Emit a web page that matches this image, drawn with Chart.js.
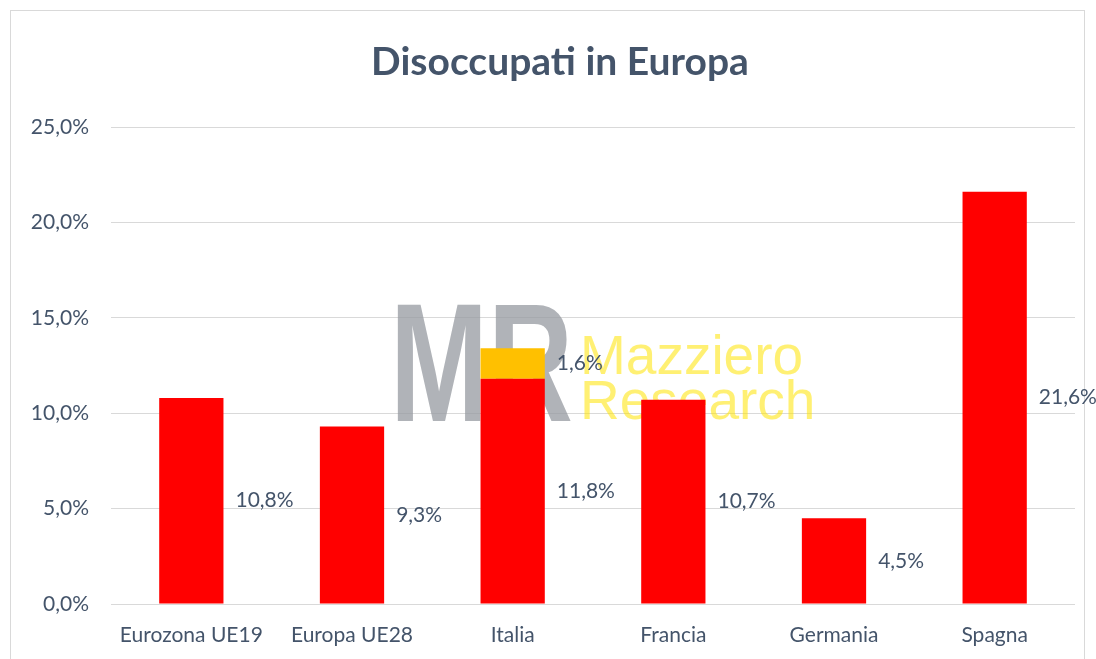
<!DOCTYPE html>
<html>
<head>
<meta charset="utf-8">
<script src="https://cdn.jsdelivr.net/npm/chart.js@4"></script>
<style>
  html, body { margin: 0; padding: 0; background: #fff; }
  #wrap { position: relative; width: 1096px; height: 659px; }
  #frame { position: absolute; left: 10px; top: 10px; width: 1075px; height: 660px; border: 1px solid #d9d9d9; box-sizing: border-box; }
  canvas { position: absolute; left: 0; top: 0; }
</style>
</head>
<body>
<div id="wrap">
  <div id="frame"></div>
  <canvas id="chart" width="1096" height="659"></canvas>
</div>
<script>
"use strict";

var categories = ["Eurozona UE19", "Europa UE28", "Italia", "Francia", "Germania", "Spagna"];
var baseValues = [10.8, 9.3, 11.8, 10.7, 4.5, 21.6];
var extraValues = [null, null, 1.6, null, null, null];
var yTicks = [0, 5, 10, 15, 20, 25];
var chartTitle = "Disoccupati in Europa";

var TEXT = "#44546A";
var FONT = "Lato, 'Open Sans', sans-serif";

function pct(v) { return v.toFixed(1).replace(".", ",") + "%"; }

// title, centred on the framed box rather than the canvas
var titleText = {
  id: "titleText",
  afterDraw: function (chart) {
    var ctx = chart.ctx;
    ctx.save();
    ctx.font = "bold 39px " + FONT;
    ctx.fillStyle = TEXT;
    ctx.textAlign = "center";
    ctx.textBaseline = "middle";
    ctx.fillText(chartTitle, 560, 62);
    ctx.restore();
  }
};

// watermark drawn behind the bars
var watermark = {
  id: "watermark",
  beforeDatasetsDraw: function (chart) {
    var ctx = chart.ctx;
    ctx.save();
    ctx.textBaseline = "alphabetic";
    ctx.fillStyle = "rgba(150,154,160,0.75)";
    ctx.font = "bold 168px 'Liberation Sans', Arial, sans-serif";
    ctx.translate(390, 421);
    ctx.scale(0.7, 1);
    ctx.fillText("MR", 0, 0);
    ctx.restore();

    ctx.save();
    ctx.fillStyle = "rgba(255,228,0,0.55)";
    ctx.font = "55px 'Liberation Sans', Arial, sans-serif";
    ctx.fillText("Mazziero", 580, 374);
    ctx.fillText("Research", 580, 419);
    ctx.restore();
  }
};

// value labels to the right of each bar segment
var valueLabels = {
  id: "valueLabels",
  afterDatasetsDraw: function (chart) {
    var ctx = chart.ctx;
    ctx.save();
    ctx.font = "21px " + FONT;
    ctx.fillStyle = TEXT;
    ctx.textAlign = "left";
    ctx.textBaseline = "middle";
    chart.data.datasets.forEach(function (ds, di) {
      var meta = chart.getDatasetMeta(di);
      meta.data.forEach(function (bar, i) {
        var v = ds.data[i];
        if (v == null) return;
        var p = bar.getProps(["x", "y", "base", "width"], true);
        ctx.fillText(pct(v), p.x + p.width / 2 + 12, (p.y + p.base) / 2);
      });
    });
    ctx.restore();
  }
};

new Chart(document.getElementById("chart"), {
  type: "bar",
  data: {
    labels: categories,
    datasets: [
      { label: "Disoccupati", data: baseValues, backgroundColor: "#FF0000", categoryPercentage: 1, barPercentage: 0.4 },
      { label: "Extra", data: extraValues, backgroundColor: "#FFC000", categoryPercentage: 1, barPercentage: 0.4 }
    ]
  },
  options: {
    responsive: false,
    animation: false,
    layout: { padding: { left: 0, right: 21, top: 127, bottom: 0 } },
    scales: {
      x: {
        stacked: true,
        grid: { display: false },
        border: { display: false },
        ticks: { color: TEXT, font: { family: FONT, size: 21 }, padding: 11, maxRotation: 0 },
        afterFit: function (s) { s.height = 55; }
      },
      y: {
        stacked: true,
        min: 0, max: 25,
        afterBuildTicks: function (s) { s.ticks = yTicks.map(function (v) { return { value: v }; }); },
        grid: { color: "#d9d9d9", lineWidth: 1, drawTicks: false },
        border: { display: false },
        ticks: { color: TEXT, font: { family: FONT, size: 21 }, padding: 22, callback: function (v) { return pct(v); } },
        afterFit: function (s) { s.width = 111; }
      }
    },
    plugins: {
      legend: { display: false },
      tooltip: { enabled: false },
      title: { display: false }
    }
  },
  plugins: [watermark, valueLabels, titleText]
});
</script>
</body>
</html>
